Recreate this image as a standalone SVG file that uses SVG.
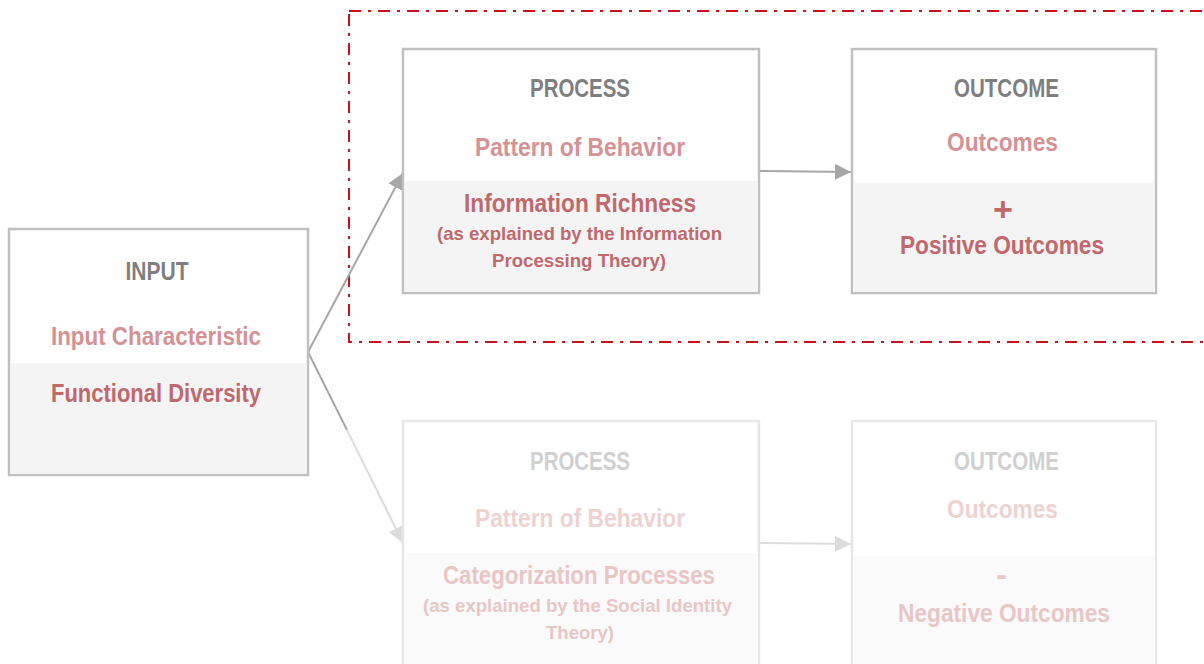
<svg xmlns="http://www.w3.org/2000/svg" width="1204" height="664" viewBox="0 0 1204 664">
<defs>
<style>
text{font-family:"Liberation Sans",Arial,sans-serif;font-weight:bold;text-anchor:middle}
.box{fill:#ffffff;stroke:#c0c0c0;stroke-width:2.5}
.boxf{fill:#ffffff;stroke:#e6e6e6;stroke-width:2.5}
.band{fill:#f4f4f4}
.bandf{fill:#fafafa}
.h{font-size:25px;fill:#7f7f7f}
.hf{font-size:25px;fill:#d0d0d0}
.s{font-size:25px;fill:#d49294}
.sf{font-size:25px;fill:#eed2d2}
.m{font-size:25px;fill:#c0686c}
.mf{font-size:25px;fill:#e9c6c6}
.n{font-size:19px;fill:#c0686c}
.nf{font-size:19px;fill:#e9c6c6}
.c{fill:none;stroke:#a6a6a6;stroke-width:2}
.cf{fill:none;stroke:#dcdcdc;stroke-width:2}
</style>
<marker id="ah" viewBox="0 0 16 16" refX="16" refY="8" markerWidth="16" markerHeight="16" markerUnits="userSpaceOnUse" orient="auto"><path d="M0,0 L16,8 L0,16 z" fill="#a6a6a6"/></marker>
<marker id="ahf" viewBox="0 0 16 16" refX="16" refY="8" markerWidth="16" markerHeight="16" markerUnits="userSpaceOnUse" orient="auto"><path d="M0,0 L16,8 L0,16 z" fill="#dcdcdc"/></marker>
</defs>
<rect width="1204" height="664" fill="#ffffff"/>
<rect id="highlight" x="349" y="11" width="880" height="331" fill="none" stroke="#c8101a" stroke-width="2" stroke-dasharray="12 7 3 7"/>
<g id="connectors">
<path class="c" d="M308,352 L403,173" marker-end="url(#ah)"/>
<path class="c" d="M308,352 L347,430"/>
<path class="cf" d="M347,430 L403,543" marker-end="url(#ahf)"/>
<path class="c" d="M759,171 L851,172" marker-end="url(#ah)"/>
<path class="cf" d="M759,543 L851,544" marker-end="url(#ahf)"/>
</g>
<g id="input">
<rect class="box" x="9" y="229" width="299" height="246"/>
<rect class="band" x="10.25" y="363" width="296.5" height="110.75"/>
<text class="h" x="157" y="280" textLength="63" lengthAdjust="spacingAndGlyphs">INPUT</text>
<text class="s" x="156" y="345" textLength="210" lengthAdjust="spacingAndGlyphs">Input Characteristic</text>
<text class="m" x="156" y="402" textLength="210" lengthAdjust="spacingAndGlyphs">Functional Diversity</text>
</g>
<g id="process-top">
<rect class="box" x="403" y="49" width="356" height="244"/>
<rect class="band" x="404.25" y="181" width="353.5" height="110.75"/>
<text class="h" x="580" y="97" textLength="100" lengthAdjust="spacingAndGlyphs">PROCESS</text>
<text class="s" x="580" y="156" textLength="210" lengthAdjust="spacingAndGlyphs">Pattern of Behavior</text>
<text class="m" x="580" y="212" textLength="232" lengthAdjust="spacingAndGlyphs">Information Richness</text>
<text class="n" x="579.5" y="240" textLength="285" lengthAdjust="spacingAndGlyphs">(as explained by the Information</text>
<text class="n" x="579" y="267" textLength="174" lengthAdjust="spacingAndGlyphs">Processing Theory)</text>
</g>
<g id="outcome-top">
<rect class="box" x="852" y="49" width="304" height="244"/>
<rect class="band" x="853.25" y="183" width="301.5" height="108.75"/>
<text class="h" x="1006.5" y="97" textLength="105" lengthAdjust="spacingAndGlyphs">OUTCOME</text>
<text class="s" x="1002.5" y="151" textLength="111" lengthAdjust="spacingAndGlyphs">Outcomes</text>
<text class="m" x="1003" y="221" style="font-size:34px">+</text>
<text class="m" x="1002" y="254" textLength="204" lengthAdjust="spacingAndGlyphs">Positive  Outcomes</text>
</g>
<g id="process-bottom">
<rect class="boxf" x="403" y="421" width="356" height="260"/>
<rect class="bandf" x="404.25" y="553" width="353.5" height="120"/>
<text class="hf" x="580" y="470" textLength="100" lengthAdjust="spacingAndGlyphs">PROCESS</text>
<text class="sf" x="580" y="527" textLength="210" lengthAdjust="spacingAndGlyphs">Pattern of Behavior</text>
<text class="mf" x="579" y="584" textLength="272" lengthAdjust="spacingAndGlyphs">Categorization Processes</text>
<text class="nf" x="577.5" y="612" textLength="309" lengthAdjust="spacingAndGlyphs">(as explained by the Social Identity</text>
<text class="nf" x="580" y="639" textLength="68" lengthAdjust="spacingAndGlyphs">Theory)</text>
</g>
<g id="outcome-bottom">
<rect class="boxf" x="852" y="421" width="304" height="260"/>
<rect class="bandf" x="853.25" y="556" width="301.5" height="120"/>
<text class="hf" x="1006.5" y="470" textLength="105" lengthAdjust="spacingAndGlyphs">OUTCOME</text>
<text class="sf" x="1002.5" y="518" textLength="111" lengthAdjust="spacingAndGlyphs">Outcomes</text>
<text class="mf" x="1001.5" y="585" style="font-size:32px">-</text>
<text class="mf" x="1004" y="622" textLength="212" lengthAdjust="spacingAndGlyphs">Negative Outcomes</text>
</g>
</svg>
